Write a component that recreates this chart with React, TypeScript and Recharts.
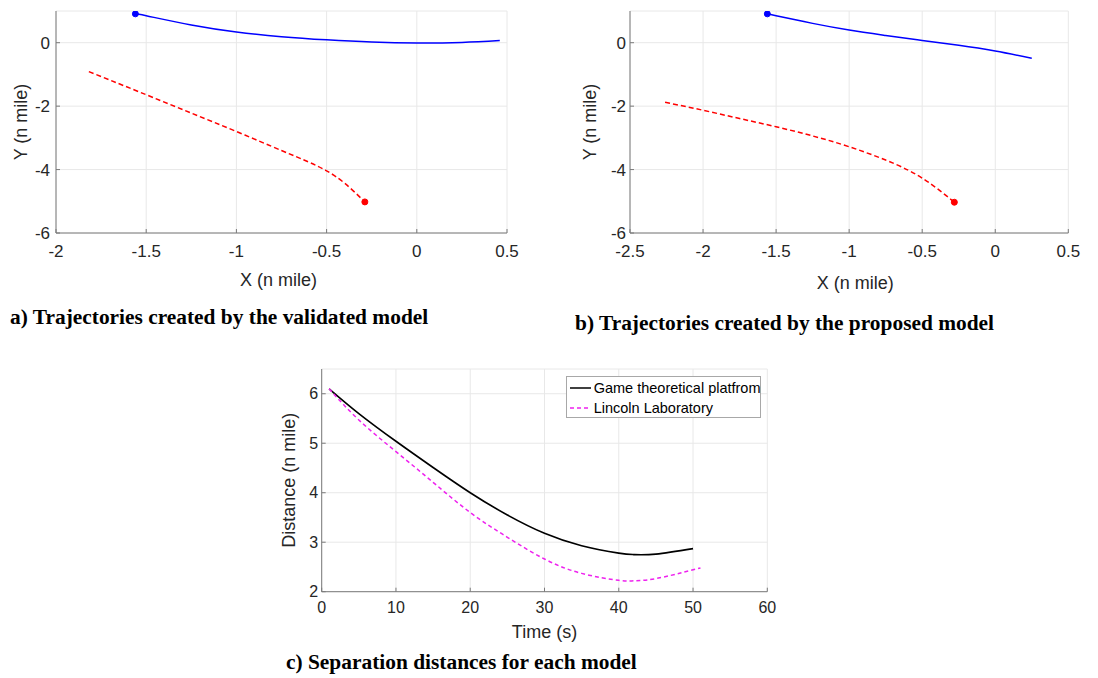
import React from 'react';
import { LineChart, Line, XAxis, YAxis, CartesianGrid, Legend } from 'recharts';

// ---- data ----
const blueAX = [-1.56, -1.5, -1.25, -1.0, -0.75, -0.5, -0.25, 0, 0.25, 0.46];
const blueAY = [0.91, 0.85, 0.56, 0.34, 0.19, 0.09, 0.02, -0.01, 0.01, 0.07];
const redAX = [-1.818, -1.5, -1.25, -1.0, -0.75, -0.6, -0.5, -0.4, -0.288];
const redAY = [-0.91, -1.64, -2.22, -2.8, -3.4, -3.76, -4.04, -4.43, -5.02];

const blueBX = [-1.56, -1.5, -1.25, -1.0, -0.75, -0.5, -0.25, 0, 0.25];
const blueBY = [0.91, 0.85, 0.61, 0.4, 0.23, 0.07, -0.08, -0.26, -0.49];
const redBX = [-2.26, -2.0, -1.75, -1.5, -1.25, -1.0, -0.75, -0.6, -0.5, -0.4, -0.28];
const redBY = [-1.88, -2.13, -2.39, -2.65, -2.94, -3.28, -3.7, -4.01, -4.27, -4.59, -5.03];

const gameT = [1, 5, 10, 15, 20, 25, 30, 35, 40, 42, 45, 50];
const gameD = [6.1, 5.6, 5.04, 4.51, 4.0, 3.55, 3.18, 2.93, 2.78, 2.75, 2.76, 2.87];
const lincolnT = [1, 5, 10, 15, 20, 25, 30, 35, 40, 42, 45, 51];
const lincolnD = [6.1, 5.47, 4.83, 4.21, 3.6, 3.1, 2.66, 2.37, 2.23, 2.22, 2.265, 2.48];

const ticksXA = [-2, -1.5, -1, -0.5, 0, 0.5];
const ticksXB = [-2.5, -2, -1.5, -1, -0.5, 0, 0.5];
const ticksYTraj = [-6, -4, -2, 0];
const ticksXC = [0, 10, 20, 30, 40, 50, 60];
const ticksYC = [2, 3, 4, 5, 6];

const seriesNames = ['Game theoretical platfrom', 'Lincoln Laboratory'];
const captions = [
  'a) Trajectories created by the validated model',
  'b) Trajectories created by the proposed model',
  'c) Separation distances for each model',
];

// ---- styles ----
const AXIS = '#7a7a7a';
const TEXT = '#262626';
const GRID = '#e8e8e8';
const SANS = '"Liberation Sans", Arial, sans-serif';
const SERIF = '"Liberation Serif", "Times New Roman", serif';
const BLUE = '#0000ff';
const RED = '#ff0000';
const MAGENTA = '#ee22ee';

const toPts = (xs: number[], ys: number[]) => xs.map((x, i) => ({ x, y: ys[i] }));

const marker = (which: 'first' | 'last', len: number, color: string) => (p: any) => {
  const show = which === 'first' ? p.index === 0 : p.index === len - 1;
  if (!show) return <g key={`d${p.index}`} />;
  return <circle key={`d${p.index}`} cx={p.cx} cy={p.cy} r={3} fill={color} stroke={color} strokeWidth={1} />;
};

const tickStyle = (size: number) => ({ fill: TEXT, fontSize: size, fontFamily: SANS });
const labelStyle = { fill: TEXT, fontSize: 18, fontFamily: SANS, textAnchor: 'middle' as const };

function TrajChart(props: {
  left: number;
  width: number;
  marginRight: number;
  yAxisWidth: number;
  xDomain: [number, number];
  xTicks: number[];
  blue: { x: number; y: number }[];
  red: { x: number; y: number }[];
  yLabelOffset: number;
  xLabelDx: number;
  xLabelOffset: number;
  yTickMargin: number;
}) {
  const { left, width, marginRight, yAxisWidth, xDomain, xTicks, blue, red } = props;
  return (
    <div style={{ position: 'absolute', left, top: 0 }}>
      <LineChart width={width} height={300} margin={{ top: 11, right: marginRight, bottom: 0, left: 0 }}>
        <CartesianGrid stroke={GRID} />
        <XAxis
          dataKey="x"
          type="number"
          domain={xDomain}
          ticks={xTicks}
          allowDataOverflow
          height={67}
          tickSize={-4}
          tickMargin={16}
          stroke={AXIS}
          tick={tickStyle(17)}
          label={{ value: 'X (n mile)', position: 'insideBottom', offset: props.xLabelOffset, dx: props.xLabelDx, style: labelStyle }}
        />
        <YAxis
          type="number"
          domain={[-6, 1]}
          ticks={ticksYTraj}
          allowDataOverflow
          width={yAxisWidth}
          tickSize={-4}
          tickMargin={props.yTickMargin}
          stroke={AXIS}
          tick={tickStyle(17)}
          label={{ value: 'Y (n mile)', angle: -90, position: 'insideLeft', offset: props.yLabelOffset, style: labelStyle }}
        />
        <XAxis xAxisId="top" orientation="top" type="number" domain={xDomain} ticks={xTicks} allowDataOverflow height={0} tick={false} tickSize={-4} stroke={AXIS} />
        <YAxis yAxisId="right" orientation="right" type="number" domain={[-6, 1]} ticks={ticksYTraj} allowDataOverflow width={0} tick={false} tickSize={-4} stroke={AXIS} />
        <Line data={red} dataKey="y" type="natural" stroke={RED} strokeWidth={1.5} strokeDasharray="5 3" dot={marker('last', red.length, RED)} isAnimationActive={false} />
        <Line data={blue} dataKey="y" type="natural" stroke={BLUE} strokeWidth={1.5} dot={marker('first', blue.length, BLUE)} isAnimationActive={false} />
      </LineChart>
    </div>
  );
}

function SepLegend() {
  const rows = [
    { name: seriesNames[0], color: '#000000', dash: undefined as string | undefined },
    { name: seriesNames[1], color: MAGENTA, dash: '4 3' },
  ];
  return (
    <div
      style={{
        width: 195,
        height: 42,
        boxSizing: 'border-box',
        border: '1px solid #a8a8a8',
        background: '#fff',
        position: 'relative',
        fontFamily: SANS,
        fontSize: 14.5,
        color: '#000',
      }}
    >
      {rows.map((r, i) => (
        <div key={r.name} style={{ position: 'absolute', left: 2, top: 1 + i * 20, height: 20, display: 'flex', alignItems: 'center', whiteSpace: 'nowrap' }}>
          <svg width={23} height={20} style={{ display: 'block' }}>
            <line x1={1} y1={10} x2={22} y2={10} stroke={r.color} strokeWidth={1.5} strokeDasharray={r.dash} />
          </svg>
          <span style={{ marginLeft: 2 }}>{r.name}</span>
        </div>
      ))}
    </div>
  );
}

function SepChart() {
  const game = toPts(gameT, gameD);
  const lincoln = toPts(lincolnT, lincolnD);
  return (
    <div style={{ position: 'absolute', left: 270, top: 340 }}>
      <LineChart width={530} height={310} margin={{ top: 29, right: 32.7, bottom: 0, left: 0 }}>
        <CartesianGrid stroke={GRID} />
        <XAxis
          dataKey="x"
          type="number"
          domain={[0, 60]}
          ticks={ticksXC}
          allowDataOverflow
          height={58.3}
          tickSize={-4}
          tickMargin={14}
          stroke={AXIS}
          tick={tickStyle(16)}
          label={{ value: 'Time (s)', position: 'insideBottom', offset: 11.7, style: labelStyle }}
        />
        <YAxis
          type="number"
          domain={[2, 6.5]}
          ticks={ticksYC}
          allowDataOverflow
          width={51.7}
          tickSize={-4}
          tickMargin={7.5}
          stroke={AXIS}
          tick={tickStyle(16)}
          label={{ value: 'Distance (n mile)', angle: -90, position: 'insideLeft', offset: 18.3, style: labelStyle }}
        />
        <XAxis xAxisId="top" orientation="top" type="number" domain={[0, 60]} ticks={ticksXC} allowDataOverflow height={0} tick={false} tickSize={-4} stroke={AXIS} />
        <YAxis yAxisId="right" orientation="right" type="number" domain={[2, 6.5]} ticks={ticksYC} allowDataOverflow width={0} tick={false} tickSize={-4} stroke={AXIS} />
        <Line data={game} dataKey="y" name={seriesNames[0]} type="natural" stroke="#000000" strokeWidth={1.6} dot={false} isAnimationActive={false} />
        <Line data={lincoln} dataKey="y" name={seriesNames[1]} type="natural" stroke={MAGENTA} strokeWidth={1.5} strokeDasharray="4 3" dot={false} isAnimationActive={false} />
        <Legend
          layout="vertical"
          align="center"
          verticalAlign="middle"
          wrapperStyle={{ left: 295.7, top: 35.7, width: 195, height: 42 }}
          content={() => <SepLegend />}
        />
      </LineChart>
    </div>
  );
}

const captionStyle: React.CSSProperties = {
  position: 'absolute',
  fontFamily: SERIF,
  fontWeight: 'bold',
  fontSize: 21.4,
  lineHeight: '21px',
  color: '#000',
  whiteSpace: 'nowrap',
};

export default function App() {
  return (
    <div style={{ position: 'absolute', left: 0, top: 0, width: 1098, height: 678, background: '#fff', overflow: 'hidden' }}>
      <TrajChart
        left={0}
        width={520}
        marginRight={13}
        yAxisWidth={56}
        xDomain={[-2, 0.5]}
        xTicks={ticksXA}
        blue={toPts(blueAX, blueAY)}
        red={toPts(redAX, redAY)}
        yLabelOffset={21}
        xLabelDx={-3}
        xLabelOffset={14}
        yTickMargin={10}
      />
      <TrajChart
        left={560}
        width={538}
        marginRight={29.7}
        yAxisWidth={70}
        xDomain={[-2.5, 0.5]}
        xTicks={ticksXB}
        blue={toPts(blueBX, blueBY)}
        red={toPts(redBX, redBY)}
        yLabelOffset={30}
        xLabelDx={6}
        xLabelOffset={11}
        yTickMargin={8}
      />
      <SepChart />
      <div style={{ ...captionStyle, left: 10, top: 307 }}>{captions[0]}</div>
      <div style={{ ...captionStyle, left: 575, top: 313 }}>{captions[1]}</div>
      <div style={{ ...captionStyle, left: 286, top: 652 }}>{captions[2]}</div>
    </div>
  );
}
